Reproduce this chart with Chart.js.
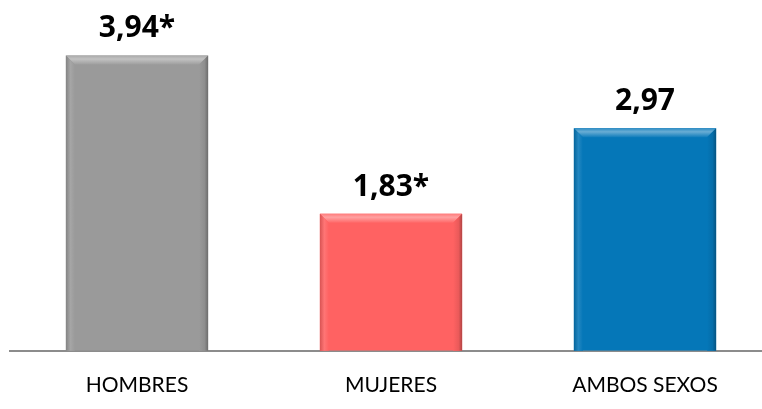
<!DOCTYPE html>
<html><head><meta charset="utf-8">
<script src="https://cdn.jsdelivr.net/npm/chart.js@4"></script>
<style>html,body{margin:0;padding:0;background:#fff;overflow:hidden}#wrap{width:772px;height:409px;position:relative}</style>
</head><body><div id="wrap"><canvas id="c"></canvas></div>
<script>
const categories = ["HOMBRES", "MUJERES", "AMBOS SEXOS"];
const values = [3.94, 1.83, 2.97];
const significant = [true, true, false];
const colors = ["#9a9a9a", "#ff6262", "#0577b8"];

function shade(hex, amt){
  const n = parseInt(hex.slice(1),16);
  let r=(n>>16)&255,g=(n>>8)&255,b=n&255;
  const f = v => Math.max(0,Math.min(255,Math.round(amt>0? v+(255-v)*amt : v*(1+amt))));
  return `rgb(${f(r)},${f(g)},${f(b)})`;
}

const bevel = {
  id:'bevel',
  afterDatasetsDraw(chart){
    const ctx = chart.ctx;
    const meta = chart.getDatasetMeta(0);
    meta.data.forEach((bar,i)=>{
      const w = bar.width, x0 = bar.x - w/2, x1 = bar.x + w/2, y0 = bar.y, y1 = bar.base;
      const d = 9, c = colors[i];
      ctx.save();
      ctx.beginPath(); ctx.moveTo(x0,y0); ctx.lineTo(x1,y0); ctx.lineTo(x1-d,y0+d); ctx.lineTo(x0+d,y0+d); ctx.closePath();
      const g = ctx.createLinearGradient(0,y0,0,y0+d);
      g.addColorStop(0, shade(c,0.15)); g.addColorStop(0.4, shade(c,0.4)); g.addColorStop(1, shade(c,0.05));
      ctx.fillStyle = g; ctx.fill();
      ctx.beginPath(); ctx.moveTo(x0,y0); ctx.lineTo(x0+d,y0+d); ctx.lineTo(x0+d,y1); ctx.lineTo(x0,y1); ctx.closePath();
      const gl = ctx.createLinearGradient(x0,0,x0+d,0);
      gl.addColorStop(0, shade(c,-0.15)); gl.addColorStop(0.5, shade(c,0.12)); gl.addColorStop(1, c);
      ctx.fillStyle = gl; ctx.fill();
      ctx.beginPath(); ctx.moveTo(x1,y0); ctx.lineTo(x1-d,y0+d); ctx.lineTo(x1-d,y1); ctx.lineTo(x1,y1); ctx.closePath();
      const gr = ctx.createLinearGradient(x1-d,0,x1,0);
      gr.addColorStop(0, c); gr.addColorStop(0.6, shade(c,-0.08)); gr.addColorStop(1, shade(c,-0.3));
      ctx.fillStyle = gr; ctx.fill();
      ctx.fillStyle = '#000';
      ctx.font = 'bold 30px "Open Sans", Lato, sans-serif';
      ctx.textAlign = 'center'; ctx.textBaseline = 'alphabetic';
      const txt = values[i].toFixed(2).replace('.', ',') + (significant[i] ? '*' : '');
      ctx.fillText(txt, bar.x, y0 - 18);
      ctx.restore();
    });
  }
};

new Chart(document.getElementById('c'), {
  type:'bar',
  data:{ labels: categories, datasets:[{ data: values, backgroundColor: colors, borderWidth:0, barPercentage:0.56, categoryPercentage:1 }]},
  options:{
    responsive:true, maintainAspectRatio:false, animation:false,
    layout:{ padding:{ left:10, right:0, top:0, bottom:-11 } },
    plugins:{ legend:{display:false}, tooltip:{enabled:false} },
    scales:{
      x:{ grid:{ display:false, drawTicks:false }, border:{ display:true, color:'#8c8c8c', width:2 },
          ticks:{ color:'#000', padding:22, font:{ family:'Lato, "Open Sans", sans-serif', size:21 } } },
      y:{ display:false, min:0, max:4.68 }
    }
  },
  plugins:[bevel]
});
</script></body></html>
